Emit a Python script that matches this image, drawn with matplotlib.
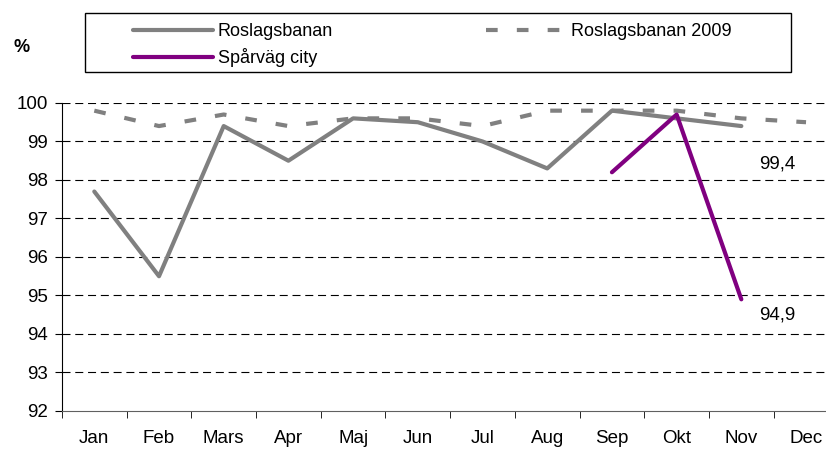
import numpy as np
import matplotlib.pyplot as plt
from matplotlib.patches import Rectangle
from matplotlib.ticker import FixedLocator

plt.rcParams['font.family'] = ['Liberation Sans', 'DejaVu Sans']

# Månader och värden (%)
months = ['Jan', 'Feb', 'Mars', 'Apr', 'Maj', 'Jun', 'Jul', 'Aug', 'Sep', 'Okt', 'Nov', 'Dec']
roslagsbanan = [97.7, 95.5, 99.4, 98.5, 99.6, 99.5, 99.0, 98.3, 99.8, 99.6, 99.4, np.nan]
roslagsbanan_2009 = [99.8, 99.4, 99.7, 99.4, 99.6, 99.6, 99.4, 99.8, 99.8, 99.8, 99.6, 99.5]
sparvag_city = [np.nan] * 8 + [98.2, 99.7, 94.9, np.nan]
labels = [(10, 99.4, '99,4'), (10, 94.9, '94,9')]
label_offsets = [(26, -27), (26, -11)]

x = np.arange(len(months))

fig = plt.figure(figsize=(8.26, 4.51), dpi=100)
ax = fig.add_axes([0.075, 0.0887, 0.94, 0.683])

grey = '#808080'
purple = '#800080'

l1, = ax.plot(x, roslagsbanan, color=grey, lw=3, solid_capstyle='round',
              label='Roslagsbanan', clip_on=False, zorder=3)
l3, = ax.plot(x, roslagsbanan_2009, color=grey, lw=3, linestyle=(0, (2.8, 4.6)),
              dash_capstyle='butt', label='Roslagsbanan 2009', clip_on=False, zorder=2)
l2, = ax.plot(x, sparvag_city, color=purple, lw=3, solid_capstyle='round',
              label='Spårväg city', clip_on=False, zorder=4)

for (xi, yi, txt), off in zip(labels, label_offsets):
    ax.annotate(txt, (xi, yi), xytext=off, textcoords='offset points',
                ha='center', va='center', fontsize=13.5)

ax.set_xlim(-0.5, 11.5)
ax.set_ylim(92, 100)
ax.set_yticks(range(92, 101))
ax.set_xticks(x)
ax.set_xticklabels(months)
ax.xaxis.set_minor_locator(FixedLocator(np.arange(-0.5, 12, 1)))
ax.tick_params(axis='x', which='major', length=0, pad=14, labelsize=13.5)
ax.tick_params(axis='x', which='minor', length=5, direction='out', color='black')
ax.tick_params(axis='y', length=5, direction='out', labelsize=13.5, pad=5)

for y in range(93, 101):
    ax.axhline(y, color='black', lw=0.8, linestyle=(0, (7.2, 4.3)), zorder=1)

for s in ['top', 'right']:
    ax.spines[s].set_visible(False)
ax.spines['left'].set_color('black')
ax.spines['bottom'].set_color('#606060')

fig.text(22 / 826, 1 - 47 / 451, '%', fontsize=13, fontweight='bold', ha='center', va='center')

# legend box drawn separately, entries placed inside
fig.patches.append(Rectangle((85 / 826, 1 - 72 / 451), 706 / 826, 59 / 451,
                             transform=fig.transFigure, fill=False,
                             edgecolor='black', lw=1))
leg = fig.legend(handles=[l1, l2, l3], ncol=2, frameon=False,
                 bbox_to_anchor=(133 / 826, 1 - 23 / 451), loc='upper left',
                 fontsize=13, handlelength=4.43, handletextpad=0.25,
                 borderpad=0, borderaxespad=0, columnspacing=8.5, labelspacing=0.45)

fig.savefig('out.png', dpi=100)
